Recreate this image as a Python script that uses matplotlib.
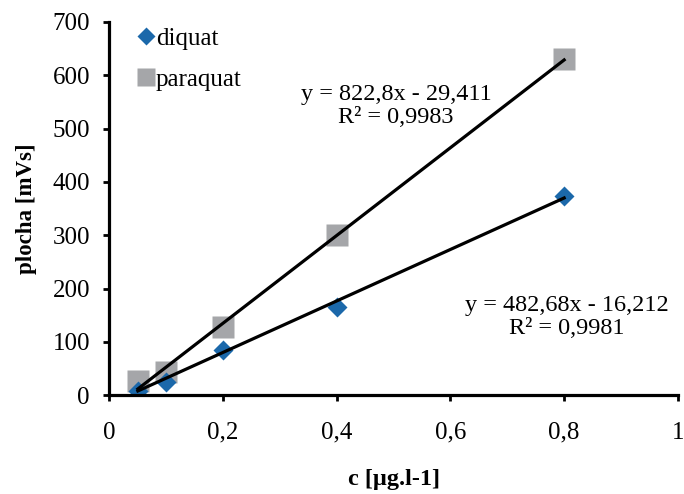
import matplotlib
matplotlib.use("Agg")
import matplotlib.pyplot as plt
from matplotlib.lines import Line2D
import numpy as np

plt.rcParams['font.family'] = ['Liberation Serif', 'DejaVu Serif']

# koncentrace [ug/l]
c = [0.05, 0.1, 0.2, 0.4, 0.8]

# plochy piku [mVs]
diquat = [8, 24, 84, 166, 373]
paraquat = [27, 43, 127, 300, 630]

# parametry regrese (z grafu)
k_diq, q_diq = 482.68, -16.212
k_par, q_par = 822.8, -29.411

blue = '#1b68aa'
grey = '#a5a6a9'

fig = plt.figure(figsize=(6.84, 4.94), dpi=100)
ax = fig.add_axes([0.16, 0.2, 0.831, 0.7555])

xr = np.array([c[0], c[-1]])
ax.plot(xr, k_par * xr + q_par, color='black', lw=2.3, zorder=3)
ax.plot(xr, k_diq * xr + q_diq, color='black', lw=2.3, zorder=3)

ax.plot(c, paraquat, 's', color=grey, ms=15.5, mec='none', zorder=2)
ax.plot(c, diquat, 'D', color=blue, ms=10.5, mec='none', zorder=2)

ax.text(0.504, 543, 'y = 822,8x - 29,411\nR² = 0,9983', ha='center', va='center',
        fontsize=17.5, linespacing=1.12)
ax.text(0.805, 146, 'y = 482,68x - 16,212\nR² = 0,9981', ha='center', va='center',
        fontsize=17.5, linespacing=1.12)

ax.set_xlim(0, 1)
ax.set_ylim(0, 700)
ax.set_xticks([0, 0.2, 0.4, 0.6, 0.8, 1])
ax.set_xticklabels(['0', '0,2', '0,4', '0,6', '0,8', '1'])
ax.set_yticks(range(0, 701, 100))

for s in ['top', 'right']:
    ax.spines[s].set_visible(False)
for s in ['left', 'bottom']:
    ax.spines[s].set_linewidth(2.3)
    ax.spines[s].set_zorder(5)

ax.tick_params(axis='both', direction='out', length=4, width=2, labelsize=18)
ax.tick_params(axis='x', pad=15)
ax.tick_params(axis='y', pad=10)

ax.set_xlabel('c [µg.l-1]', fontsize=17.5, fontweight='bold', labelpad=18)
ax.set_ylabel('plocha [mVs]', fontsize=16.5, fontweight='bold', labelpad=11)

# legenda s mensimi znacky nez v grafu
h = [Line2D([], [], ls='none', marker='D', color=blue, ms=9, mec='none'),
     Line2D([], [], ls='none', marker='s', color=grey, ms=12.5, mec='none')]
leg = ax.legend(h, ['diquat', 'paraquat'], loc='upper left', bbox_to_anchor=(0.033, 1.013),
                frameon=False, fontsize=18, handlelength=0.6, handletextpad=0.1,
                labelspacing=0.75, borderaxespad=0)

fig.savefig('out.png', dpi=100)
